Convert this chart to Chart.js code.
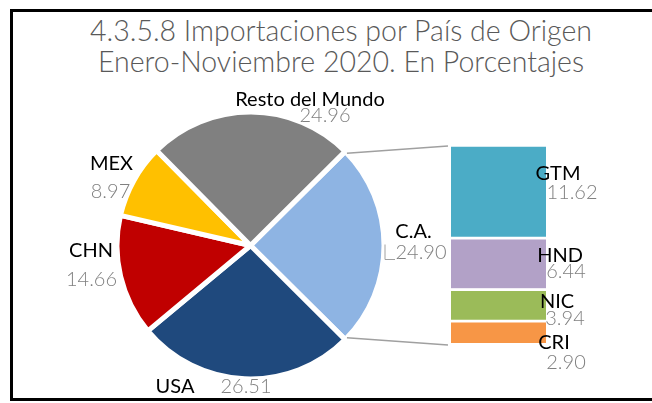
<!DOCTYPE html>
<html>
<head>
<meta charset="utf-8">
<script src="https://cdn.jsdelivr.net/npm/chart.js@4.4.0/dist/chart.umd.min.js"></script>
<style>
    html, body { margin: 0; padding: 0; background: #fff; }
    #contenedor { position: relative; width: 652px; height: 403px; overflow: hidden; background: #fff; }
    #marco { position: absolute; left: 10px; top: 9px; width: 700px; height: 386px; border: 3px solid #000; }
    #titulo {
        position: absolute; left: 10px; top: 15px; width: 662px; text-align: center;
        font-family: Lato, sans-serif; font-weight: 300; font-size: 28.5px; line-height: 31px; color: #595959;
    }
    canvas { position: absolute; left: 0; top: 0; }
</style>
</head>
<body>
<div id="contenedor">
    <div id="marco"></div>
    <div id="titulo">4.3.5.8 Importaciones por País de Origen<br>Enero-Noviembre 2020. En Porcentajes</div>
    <canvas id="graficoPastel" width="652" height="403"></canvas>
    <canvas id="graficoBarra" width="652" height="403"></canvas>
</div>
<script>
// Datos del gráfico
const paises = ['C.A.', 'USA', 'CHN', 'MEX', 'Resto del Mundo'];
const porcentajes = [24.90, 26.51, 14.66, 8.97, 24.96];
const paisesCA = ['GTM', 'HND', 'NIC', 'CRI'];
const porcentajesCA = [11.62, 6.44, 3.94, 2.90];

// Estilos
const coloresPais = ['#8EB4E3', '#1F497D', '#C00000', '#FFC000', '#808080'];
const coloresCA = ['#4BACC6', '#B2A1C7', '#9BBB59', '#F79646'];
const colorEtiqueta = '#000000';
const colorValor = '#808080';
const colorLinea = '#A0A0A0';
const BORDE = 5;

// posición de etiquetas respecto al centro del pastel: [etiqueta dx, dy, valor dx, dy]
const posEtiquetas = [
    [163, -14, 170.5, 7],
    [-75.5, 141, -4.5, 141],
    [-159.5, 5, -159, 34],
    [-139, -81.5, -140, -53.5],
    [59.5, -146, 74.5, -130]
];
// posición de etiquetas de C.A. respecto al borde derecho de la barra y centro del segmento
const posEtiquetasCA = [
    [12, -16.5, 26, 2.5],
    [14, -6.6, 20, 9.4],
    [11, -3, 19, 14],
    [8, 11.5, 20, 31.5]
];

const total = porcentajes.reduce((a, b) => a + b, 0);
const totalCA = porcentajesCA.reduce((a, b) => a + b, 0);

function texto(ctx, t, x, y, color, peso, tam) {
    ctx.save();
    ctx.font = peso + ' ' + tam + 'px Lato, sans-serif';
    ctx.fillStyle = color;
    ctx.textAlign = 'center';
    ctx.textBaseline = 'middle';
    ctx.fillText(t, x, y);
    ctx.restore();
}

const etiquetasPastel = {
    id: 'etiquetasPastel',
    afterDraw(chart) {
        const ctx = chart.ctx;
        const arcos = chart.getDatasetMeta(0).data;
        arcos.forEach((arco, i) => {
            const p = posEtiquetas[i];
            texto(ctx, paises[i], arco.x + p[0], arco.y + p[1], colorEtiqueta, 400, 20);
            texto(ctx, porcentajes[i].toFixed(2), arco.x + p[2], arco.y + p[3], colorValor, 300, 20);
        });
        // pequeña línea guía de C.A.
        const ca = arcos[0];
        const vx = ca.x + posEtiquetas[0][2] - 24;
        const vy = ca.y + posEtiquetas[0][3];
        ctx.save();
        ctx.strokeStyle = colorLinea;
        ctx.lineWidth = 1;
        ctx.beginPath();
        ctx.moveTo(vx - 12, vy - 8);
        ctx.lineTo(vx - 12, vy + 7);
        ctx.lineTo(vx - 2, vy + 7);
        ctx.stroke();
        ctx.restore();
    }
};

const ctxPastel = document.getElementById('graficoPastel').getContext('2d');
const pastel = new Chart(ctxPastel, {
    type: 'pie',
    data: {
        labels: paises,
        datasets: [{
            data: porcentajes,
            backgroundColor: coloresPais,
            borderColor: '#ffffff',
            borderWidth: BORDE
        }]
    },
    options: {
        responsive: false,
        animation: false,
        rotation: 90 - (porcentajes[0] / total) * 180,
        layout: { padding: { left: 114.5, top: 109.5, right: 265.5, bottom: 21.5 } },
        plugins: { legend: { display: false }, tooltip: { enabled: false } }
    },
    plugins: [etiquetasPastel]
});

const conectoresYEtiquetas = {
    id: 'conectoresYEtiquetas',
    afterDraw(chart) {
        const ctx = chart.ctx;
        const y = chart.scales.y;
        const ca = pastel.getDatasetMeta(0).data[0];
        const r = ca.outerRadius;
        const d = (BORDE / 2) / r;
        const barra = chart.getDatasetMeta(0).data[0];
        const izq = barra.x - barra.width / 2;
        const der = barra.x + barra.width / 2;
        const arriba = y.getPixelForValue(0);
        const abajo = y.getPixelForValue(totalCA);

        ctx.save();
        ctx.strokeStyle = colorLinea;
        ctx.lineWidth = 1.5;
        ctx.beginPath();
        ctx.moveTo(ca.x + r * Math.cos(ca.startAngle + d), ca.y + r * Math.sin(ca.startAngle + d));
        ctx.lineTo(izq - 3, arriba + 2);
        ctx.moveTo(ca.x + r * Math.cos(ca.endAngle - d), ca.y + r * Math.sin(ca.endAngle - d));
        ctx.lineTo(izq - 3, abajo + 2);
        ctx.stroke();
        ctx.restore();

        let acumulado = 0;
        porcentajesCA.forEach((v, i) => {
            const centro = (y.getPixelForValue(acumulado) + y.getPixelForValue(acumulado + v)) / 2;
            acumulado += v;
            const p = posEtiquetasCA[i];
            texto(ctx, paisesCA[i], der + p[0], centro + p[1], colorEtiqueta, 400, 20);
            texto(ctx, v.toFixed(2), der + p[2], centro + p[3], colorValor, 300, 20);
        });
    }
};

const ctxBarra = document.getElementById('graficoBarra').getContext('2d');
new Chart(ctxBarra, {
    type: 'bar',
    data: {
        labels: ['C.A.'],
        datasets: paisesCA.map((p, i) => ({
            label: p,
            data: [porcentajesCA[i]],
            backgroundColor: coloresCA[i],
            borderColor: '#ffffff',
            borderWidth: { top: 3, right: 0, bottom: 0, left: 0 },
            borderSkipped: false,
            categoryPercentage: 1,
            barPercentage: 1
        }))
    },
    options: {
        responsive: false,
        animation: false,
        layout: { padding: { left: 451, right: 106, top: 144, bottom: 60 } },
        scales: {
            x: { display: false, stacked: true },
            y: { display: false, stacked: true, reverse: true, min: 0, max: totalCA }
        },
        plugins: { legend: { display: false }, tooltip: { enabled: false } }
    },
    plugins: [conectoresYEtiquetas]
});
</script>
</body>
</html>
